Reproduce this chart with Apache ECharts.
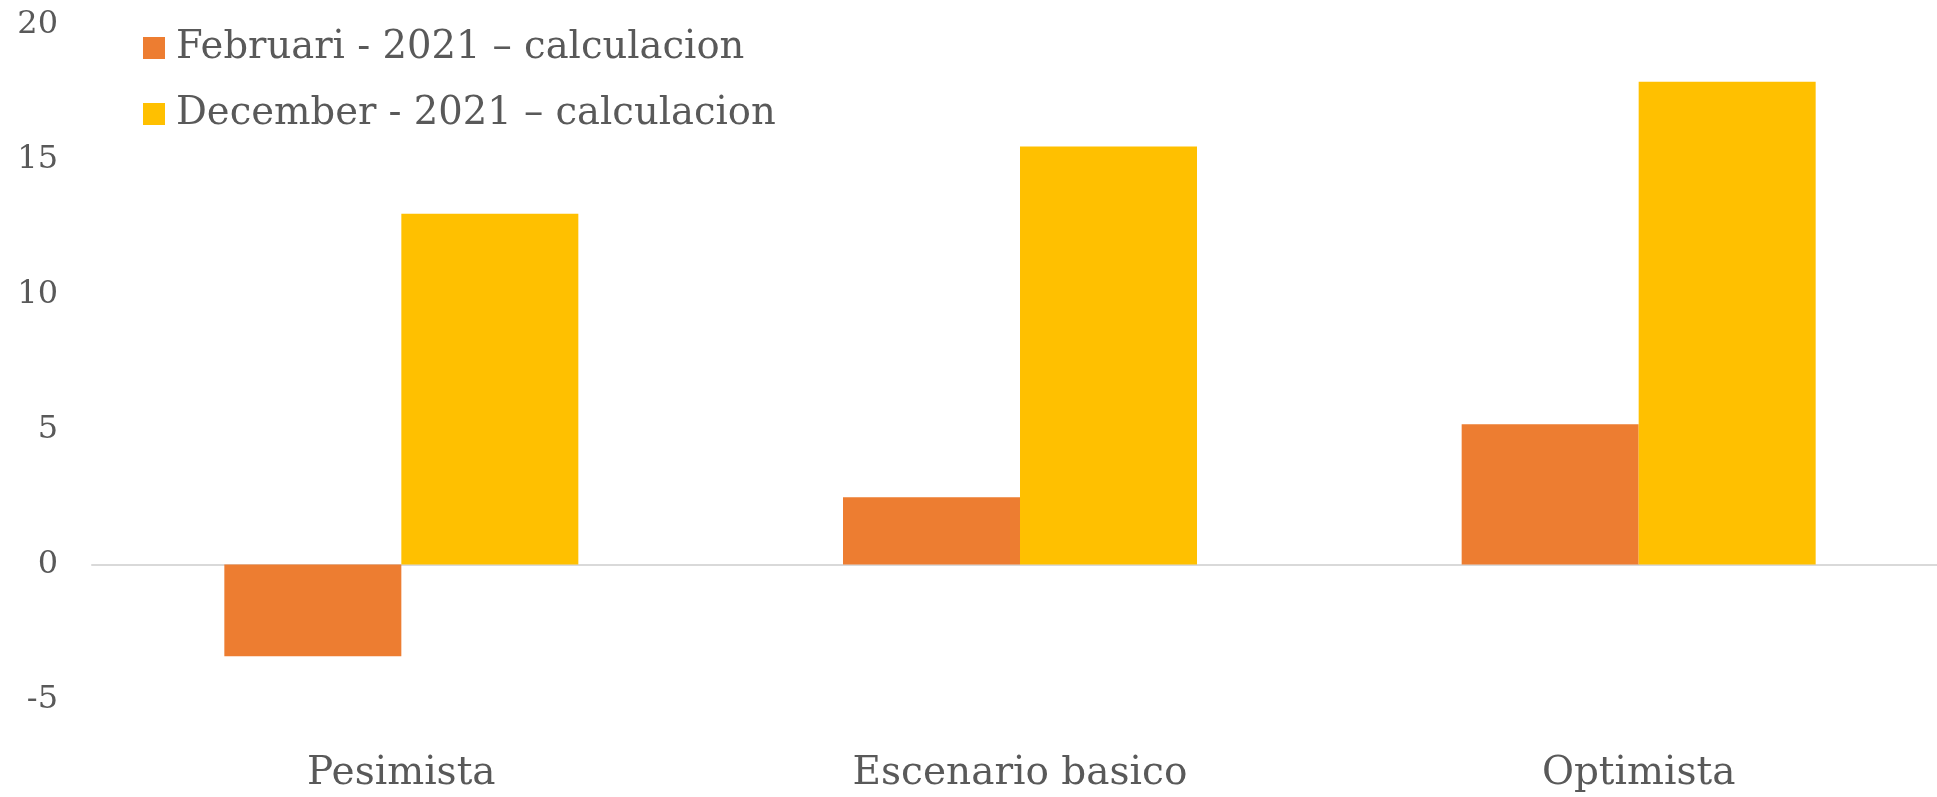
<!DOCTYPE html>
<html>
<head>
<meta charset="utf-8">
<style>html,body{margin:0;padding:0;background:#fff;overflow:hidden}#c{width:1950px;height:797px}</style>
<script src="https://cdn.jsdelivr.net/npm/echarts@6/dist/echarts.min.js"></script>
</head>
<body>
<div id="c"></div>
<script>
const categories = ['Pesimista', 'Escenario basico', 'Optimista'];
const seriesNames = ['Februari - 2021 \u2013 calculacion', 'December - 2021 \u2013 calculacion'];
const febValues = [-3.4, 2.5, 5.2];
const decValues = [13.0, 15.5, 17.9];
const yTicks = { min: -5, max: 20, interval: 5 };

const chart = echarts.init(document.getElementById('c'));
chart.setOption({
  animation: false,
  backgroundColor: '#fff',
  grid: { left: 92, top: 25, bottom: 97.5, width: 1856, containLabel: false },
  legend: {
    orient: 'vertical',
    left: 143,
    top: 22,
    padding: 0,
    itemWidth: 22,
    itemHeight: 22,
    itemGap: 14,
    icon: 'rect',
    textStyle: { fontFamily: 'DejaVu Serif', fontSize: 38.5, color: '#595959', lineHeight: 52, padding: [0, 0, 0, 6] },
    data: seriesNames
  },
  xAxis: {
    type: 'category',
    data: categories,
    axisLine: { onZero: true, lineStyle: { color: '#D9D9D9', width: 2 } },
    axisTick: { show: false },
    axisLabel: { margin: 52, fontFamily: 'DejaVu Serif', fontSize: 39, lineHeight: 44, color: '#595959' }
  },
  yAxis: {
    type: 'value',
    min: yTicks.min, max: yTicks.max, interval: yTicks.interval,
    axisLine: { show: false },
    axisTick: { show: false },
    splitLine: { show: false },
    axisLabel: { margin: 34, fontFamily: 'DejaVu Serif', fontSize: 32, color: '#595959', padding: [6, 0, 0, 0] }
  },
  series: [
    { name: seriesNames[0], type: 'bar', data: febValues, barWidth: 177, barGap: '0%', itemStyle: { color: '#ED7D31' } },
    { name: seriesNames[1], type: 'bar', data: decValues, barWidth: 177, barGap: '0%', itemStyle: { color: '#FFC000' } }
  ]
});
</script>
</body>
</html>
